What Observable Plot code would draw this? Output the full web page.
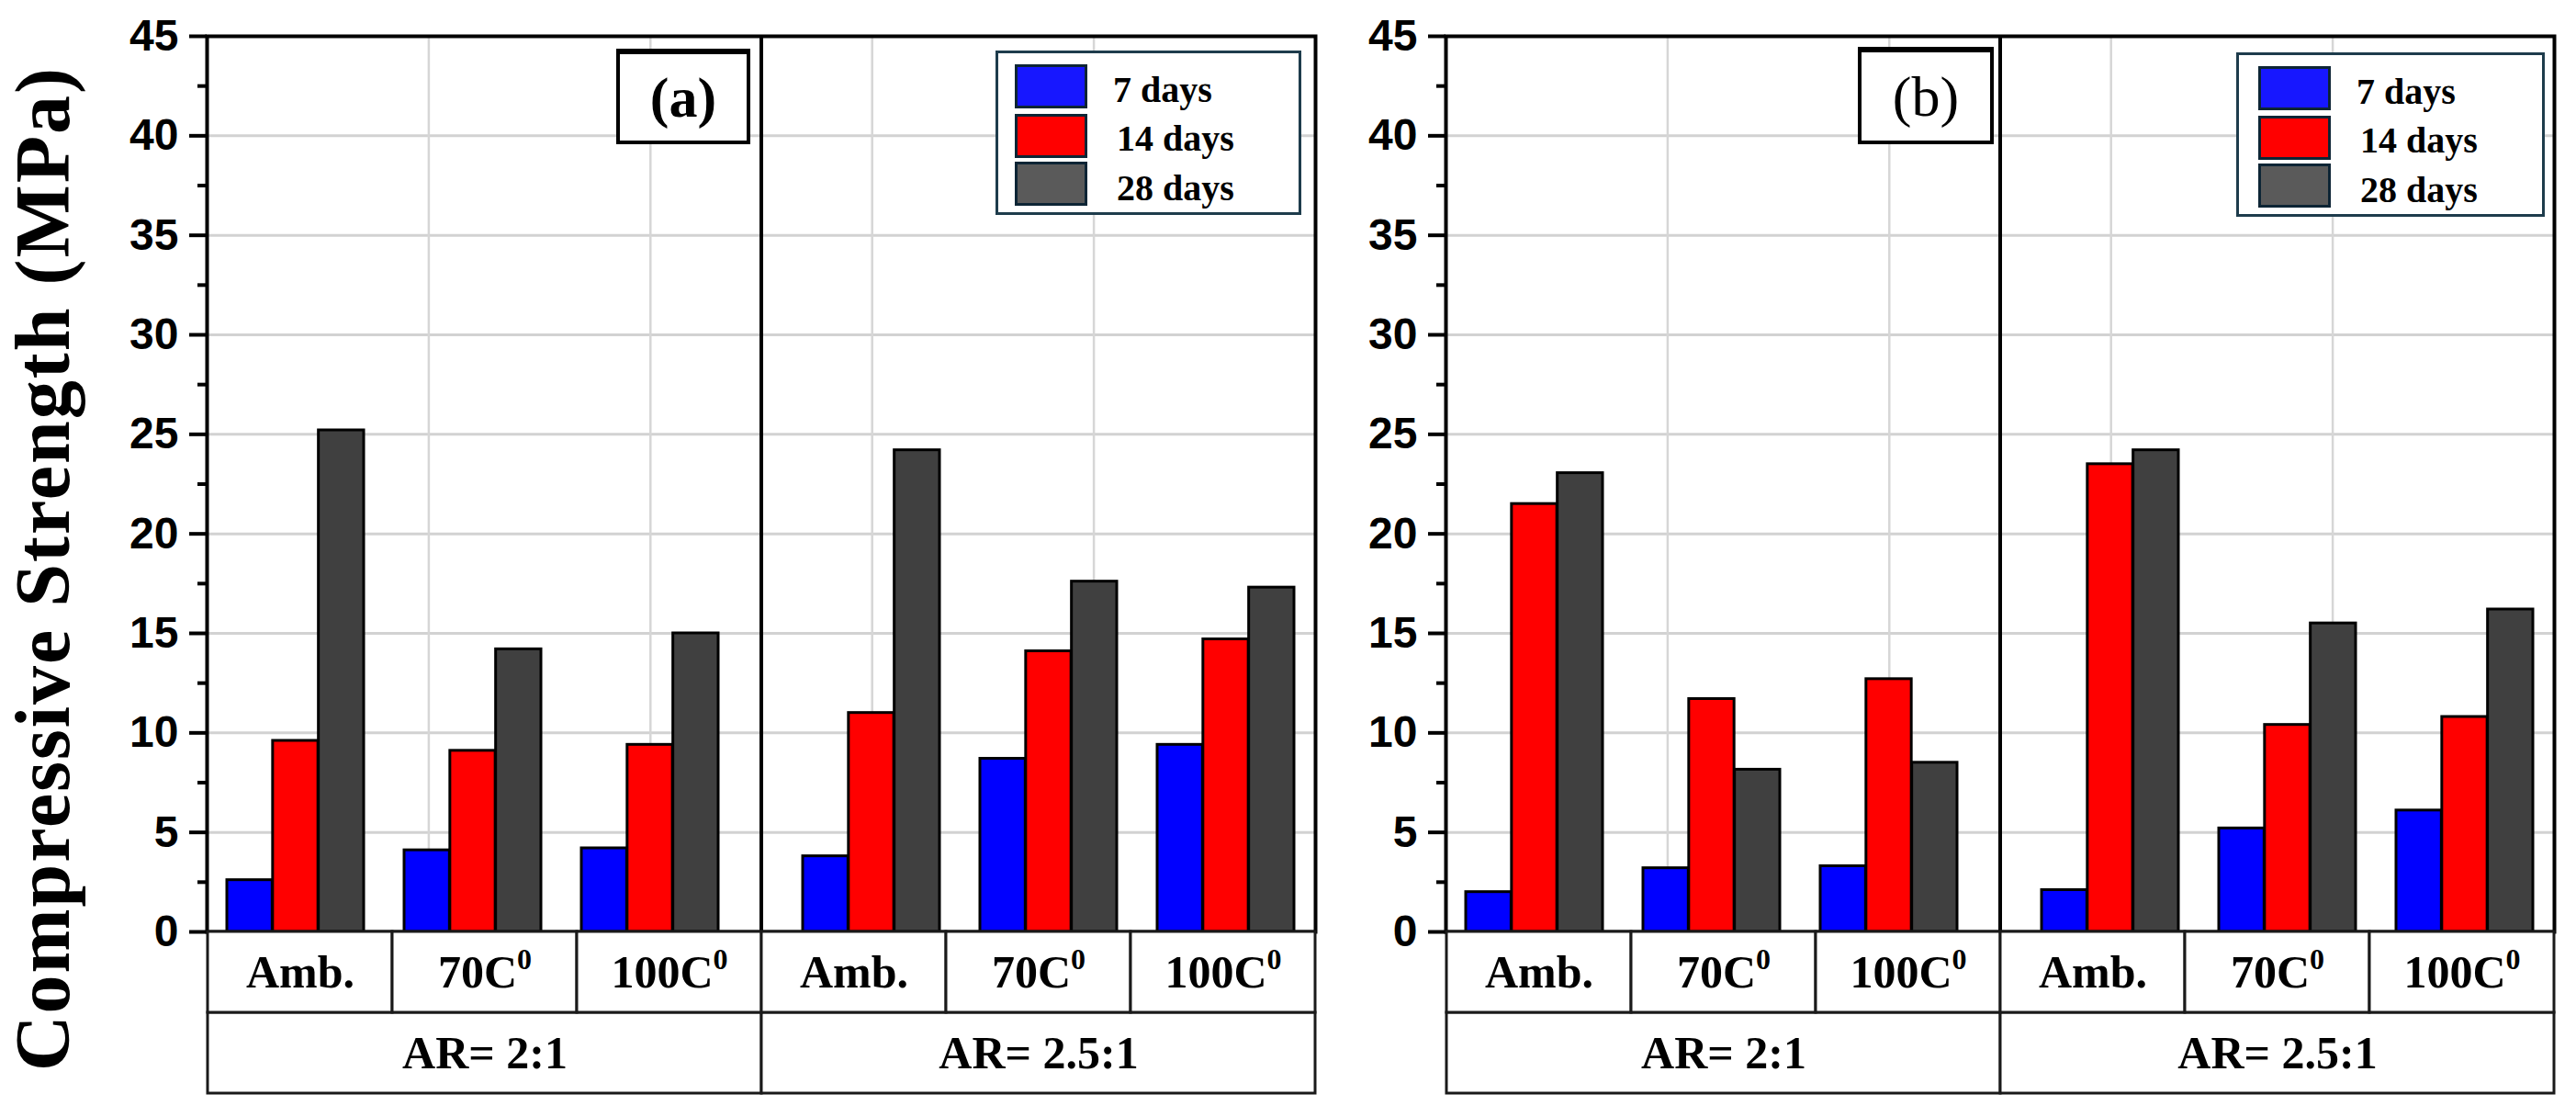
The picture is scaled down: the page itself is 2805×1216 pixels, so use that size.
<!DOCTYPE html>
<html>
<head>
<meta charset="utf-8">
<script src="https://cdn.jsdelivr.net/npm/d3@7"></script>
<script src="https://cdn.jsdelivr.net/npm/@observablehq/plot@0.6"></script>
<style>
  html, body { margin: 0; padding: 0; background: #fff; }
  #fig { position: relative; width: 2805px; height: 1216px; overflow: hidden; background: #fff; }
  .layer { position: absolute; }
  .layer svg { display: block; overflow: visible; max-width: none !important; }
  .ytitle {
    position: absolute; white-space: nowrap;
    font-family: "Liberation Serif", "Times New Roman", serif; font-weight: bold;
    font-size: 84px; letter-spacing: 2px; line-height: 1; color: #000;
    transform: translate(-50%, -50%) rotate(-90deg);
  }
  .legend { position: absolute; box-sizing: border-box; border: 3px solid #1e3c4c; background: #fff; }
  .legend .sw { position: absolute; box-sizing: border-box; width: 79px; height: 48px; border: 3px solid #0d2535; }
  .legend .lt { position: absolute; white-space: nowrap; transform: translateY(-50%);
    font-family: "Liberation Serif", "Times New Roman", serif; font-weight: bold; font-size: 40px; line-height: 1; color: #000; }
  .tag { position: absolute; box-sizing: border-box; border: 4px solid #000; border-top-width: 6px; background: #fff;
    display: flex; align-items: center; justify-content: center;
    font-family: "Liberation Serif", "Times New Roman", serif; font-size: 62px; line-height: 1; color: #000; }
</style>
</head>
<body>
<div id="fig"></div>
<script>
// ---------------- data ----------------
const series = ["7 days", "14 days", "28 days"];
const seriesColors = ["#0000ff", "#ff0000", "#404040"];
const legendColors = ["#1717ff", "#ff0000", "#5a5a5a"];
const arGroups = ["AR= 2:1", "AR= 2.5:1"];
const temps = ["Amb.", "70C⁰", "100C⁰"];
const categoryAR = ["AR= 2:1", "AR= 2:1", "AR= 2:1", "AR= 2.5:1", "AR= 2.5:1", "AR= 2.5:1"];
const categoryTemp = ["Amb.", "70C⁰", "100C⁰", "Amb.", "70C⁰", "100C⁰"];

const panelA_7days  = [2.6, 4.1, 4.2, 3.8, 8.7, 9.4];
const panelA_14days = [9.6, 9.1, 9.4, 11.0, 14.1, 14.7];
const panelA_28days = [25.2, 14.2, 15.0, 24.2, 17.6, 17.3];

const panelB_7days  = [2.0, 3.2, 3.3, 2.1, 5.2, 6.1];
const panelB_14days = [21.5, 11.7, 12.7, 23.5, 10.4, 10.8];
const panelB_28days = [23.05, 8.15, 8.5, 24.2, 15.5, 16.2];

const yDomain = [0, 45];
const yTicks = [0, 5, 10, 15, 20, 25, 30, 35, 40, 45];
const yMinorTicks = [2.5, 7.5, 12.5, 17.5, 22.5, 27.5, 32.5, 37.5, 42.5];
const hiddenXDomain = [0, 5];
const hiddenXTicks = [0, 1, 2, 3, 4, 5];

// ---------------- layout ----------------
const W = 1440, ML = 225, MR = 8, innerW = W - ML - MR;
const H = 1040, MT = 39, MB = 26;
const TABLE_TOP = 1014, TABLE_H = 186, TABLE_MB = 10;
const fxPadInner = 0.075, xPadInner = 0.227, xPadOuter = 0.113;
const facetStep = innerW / (arGroups.length - fxPadInner);
const facetBW = facetStep * (1 - fxPadInner);
const tempStep = facetBW / (temps.length - xPadInner + 2 * xPadOuter);
const tempBW = tempStep * (1 - xPadInner);
const barW = tempBW / series.length;

const tickFont = "'Liberation Sans', Arial, sans-serif";
const serifFont = "'Liberation Serif', 'Times New Roman', serif";
const fig = document.getElementById("fig");

function addLayer(svg, left, top, width) {
  const d = document.createElement("div");
  d.className = "layer";
  d.style.left = left + "px";
  d.style.top = top + "px";
  d.style.width = width + "px";
  d.appendChild(svg);
  fig.appendChild(d);
  return d;
}

function rowsFor(valsBySeries) {
  return series.flatMap((s, si) => valsBySeries[si].map((v, ci) => ({
    series: s, ar: categoryAR[ci], temp: categoryTemp[ci], value: v
  })));
}

function superscriptZero(svg) {
  svg.querySelectorAll("text").forEach(t => {
    const s = t.textContent;
    if (s.endsWith("⁰")) {
      t.textContent = s.slice(0, -1);
      const ts = document.createElementNS("http://www.w3.org/2000/svg", "tspan");
      ts.setAttribute("font-size", "32");
      ts.setAttribute("dy", "-0.62em");
      ts.textContent = "0";
      t.appendChild(ts);
    }
  });
}

function panel(left, valsBySeries, tag, legendPos, tagPos) {
  const rows = rowsFor(valsBySeries);

  // back layer: grid, frame, divider, y axis
  const back = Plot.plot({
    width: W, height: H, marginLeft: ML, marginRight: MR, marginTop: MT, marginBottom: MB,
    x: {domain: hiddenXDomain, axis: null},
    y: {domain: yDomain, axis: null},
    style: {background: "transparent", overflow: "visible"},
    marks: [
      Plot.gridY(yTicks, {stroke: "#d2d2d2", strokeOpacity: 1, strokeWidth: 3}),
      Plot.gridX(hiddenXTicks, {stroke: "#d6d6d6", strokeOpacity: 1, strokeWidth: 2.5}),
      Plot.ruleX([d3.mean(hiddenXDomain)], {stroke: "#000", strokeWidth: 4}),
      Plot.frame({stroke: "#000", strokeWidth: 4}),
      Plot.axisY(yMinorTicks, {tickSize: 10, strokeWidth: 4, tickFormat: () => "", label: null}),
      Plot.axisY(yTicks, {tickSize: 19, tickPadding: 12, strokeWidth: 4, fontSize: 48, fontWeight: "bold",
        fontFamily: tickFont, fill: "#000", label: null})
    ]
  });
  addLayer(back, left, 0, W);

  // bars layer
  const bars = Plot.plot({
    width: W, height: H, marginLeft: ML, marginRight: MR, marginTop: MT, marginBottom: MB,
    fx: {domain: arGroups, paddingInner: fxPadInner, paddingOuter: 0, axis: null, label: null},
    x: {domain: temps, paddingInner: xPadInner, paddingOuter: xPadOuter, axis: null},
    y: {domain: yDomain, axis: null},
    style: {background: "transparent", overflow: "visible"},
    marks: series.map((s, si) => Plot.barY(rows.filter(d => d.series === s), {
      fx: "ar", x: "temp", y: "value",
      fill: seriesColors[si], stroke: "#000", strokeWidth: 3,
      insetLeft: si * barW, insetRight: (series.length - 1 - si) * barW
    }))
  });
  addLayer(bars, left, 0, W);

  // category table
  const tempRows = arGroups.flatMap(ar => temps.map(t => ({ar, temp: t})));
  const arRows = arGroups.map(ar => ({ar}));
  const table = Plot.plot({
    width: W, height: TABLE_H, marginLeft: ML, marginRight: MR, marginTop: 0, marginBottom: TABLE_MB,
    fx: {domain: arGroups, padding: 0, axis: null, label: null},
    x: {domain: temps, padding: 0, axis: null},
    y: {domain: [0, 2], axis: null},
    style: {background: "transparent", overflow: "visible"},
    marks: [
      Plot.rect(arRows, {fx: "ar", y1: 0, y2: 1, fill: "#fff", stroke: "#1a1a1a", strokeWidth: 3}),
      Plot.barY(tempRows, {fx: "ar", x: "temp", y1: 1, y2: 2, fill: "#fff", stroke: "#1a1a1a", strokeWidth: 3,
        insetLeft: 0, insetRight: 0}),
      Plot.text(tempRows, {fx: "ar", x: "temp", y: 1.5, text: "temp", fontSize: 50, fontWeight: "bold",
        fontFamily: serifFont, fill: "#000"}),
      Plot.text(arRows, {fx: "ar", y: 0.5, text: "ar", fontSize: 50, fontWeight: "bold",
        fontFamily: serifFont, fill: "#000"})
    ]
  });
  superscriptZero(table);
  addLayer(table, left, TABLE_TOP, W);

  // panel tag
  const tg = document.createElement("div");
  tg.className = "tag";
  Object.assign(tg.style, {left: tagPos.x + "px", top: tagPos.y + "px", width: tagPos.w + "px", height: tagPos.h + "px",
    fontWeight: tagPos.bold ? "bold" : "normal"});
  tg.textContent = tag;
  fig.appendChild(tg);

  // legend
  const lg = document.createElement("div");
  lg.className = "legend";
  Object.assign(lg.style, {left: legendPos.x + "px", top: legendPos.y + "px", width: legendPos.w + "px", height: legendPos.h + "px"});
  const swTops = [12, 66, 118];
  const txtMid = [40, 93, 147];
  series.forEach((s, i) => {
    const sw = document.createElement("div");
    sw.className = "sw";
    Object.assign(sw.style, {left: legendPos.sw + "px", top: swTops[i] + "px", background: legendColors[i]});
    lg.appendChild(sw);
    const lt = document.createElement("div");
    lt.className = "lt";
    Object.assign(lt.style, {left: (legendPos.tx + (i === 0 ? 0 : 4)) + "px", top: txtMid[i] + "px"});
    lt.textContent = s;
    lg.appendChild(lt);
  });
  fig.appendChild(lg);
}

panel(0, [panelA_7days, panelA_14days, panelA_28days], "(a)",
  {x: 1084, y: 55, w: 333, h: 179, sw: 18, tx: 125},
  {x: 671, y: 53, w: 146, h: 104, bold: true});
panel(1349, [panelB_7days, panelB_14days, panelB_28days], "(b)",
  {x: 2435, y: 57, w: 336, h: 179, sw: 21, tx: 128},
  {x: 2023, y: 51, w: 148, h: 106, bold: false});

// y-axis title
const yt = document.createElement("div");
yt.className = "ytitle";
yt.style.left = "47px";
yt.style.top = "619px";
yt.textContent = "Compressive Strength (MPa)";
fig.appendChild(yt);
</script>
</body>
</html>
